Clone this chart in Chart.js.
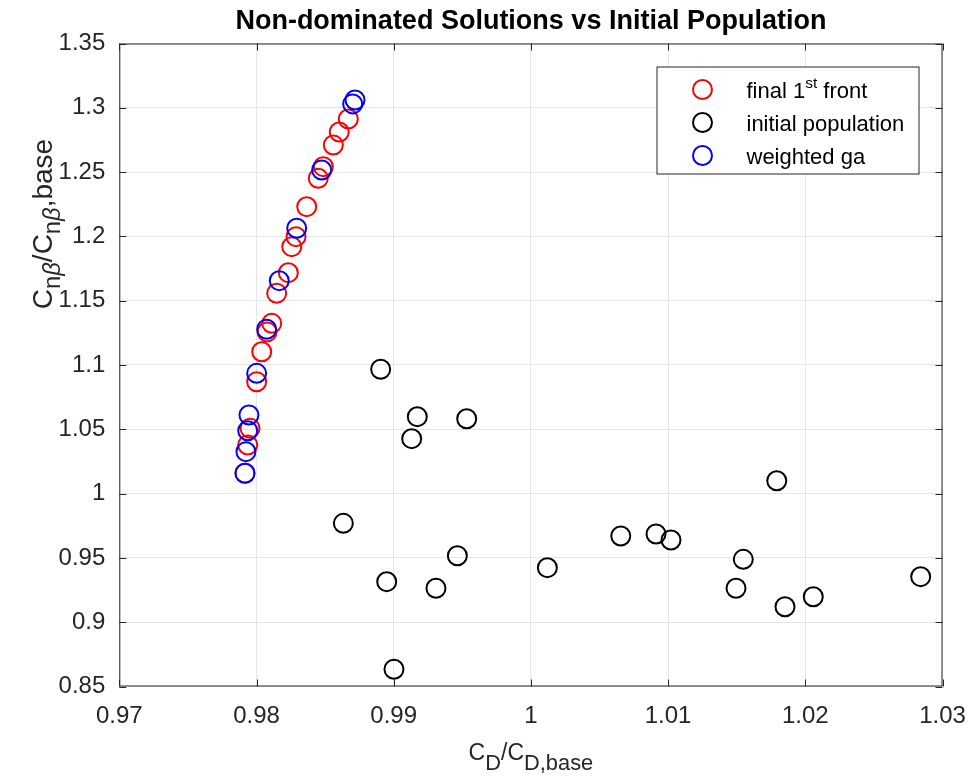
<!DOCTYPE html>
<html>
<head>
<meta charset="utf-8">
<script src="https://cdn.jsdelivr.net/npm/chart.js@4"></script>
<style>
  body { margin: 0; background: #fff; }
  #wrap { width: 972px; height: 778px; }
</style>
</head>
<body>
<div id="wrap"><canvas id="frontChart" width="972" height="778"></canvas></div>
<script>
// data: CD/CD,base vs Cnb/Cnb,base

const finalFrontX = [0.98669, 0.98603, 0.98560, 0.98487, 0.98450, 0.98366, 0.98288, 0.98257, 0.98232,
                     0.98147, 0.98111, 0.98077, 0.98038, 0.98001, 0.97953, 0.97936, 0.97916];
const finalFrontY = [1.2913, 1.2812, 1.2711, 1.2542, 1.2452, 1.2231, 1.1998, 1.1920, 1.1718,
                     1.1558, 1.1324, 1.1257, 1.1103, 1.0870, 1.0508, 1.0378, 1.0158];

const initialPopX = [0.98905, 0.99172, 0.99532, 0.99131, 0.98633, 0.99464, 1.00120, 0.98949, 0.99308, 0.99002,
                     1.01792, 1.00655, 1.00912, 1.01021, 1.01548, 1.01495, 1.01852, 1.02058, 1.02841];
const initialPopY = [1.0967, 1.0598, 1.0582, 1.0427, 0.9769, 0.9517, 0.9424, 0.9315, 0.9264, 0.8634,
                     1.0100, 0.9670, 0.9686, 0.9639, 0.9489, 0.9264, 0.9120, 0.9198, 0.9354];

const weightedGaX = [0.98718, 0.98701, 0.98475, 0.98293, 0.98166, 0.98074, 0.98001, 0.97945, 0.97936, 0.97923, 0.97916];
const weightedGaY = [1.3061, 1.3030, 1.2516, 1.2063, 1.1656, 1.1278, 1.0935, 1.0611, 1.0489, 1.0326, 1.0158];

const xTicks = [0.97, 0.98, 0.99, 1.00, 1.01, 1.02, 1.03];
const yTicks = [0.85, 0.90, 0.95, 1.00, 1.05, 1.10, 1.15, 1.20, 1.25, 1.30, 1.35];

const titleText = 'Non-dominated Solutions vs Initial Population';

const FONT = '"Liberation Sans", Arial, Helvetica, sans-serif';
const AXIS_COLOR = '#262626';

function toPoints(xs, ys) {
    return xs.map(function(x, i) { return { x: x, y: ys[i] }; });
}

// draw a run of text pieces (normal / subscript / superscript) starting at x,y (baseline)
function drawRuns(ctx, runs, x, y, size, opts) {
    opts = opts || {};
    const subScale = opts.subScale || 0.7;
    const subShift = opts.subShift || 0.28;
    let cx = x;
    runs.forEach(function(r) {
        const s = r.sub || r.sup ? size * subScale : size;
        ctx.font = (r.italic ? 'italic ' : '') + s + 'px ' + FONT;
        const dy = r.sub ? size * subShift : (r.sup ? -size * 0.42 : 0);
        if (!opts.measureOnly) ctx.fillText(r.t, cx, y + dy);
        cx += ctx.measureText(r.t).width;
    });
    return cx - x;
}

const legendItems = [
    { ds: 0, runs: [{ t: 'final 1' }, { t: 'st', sup: true }, { t: ' front' }] },
    { ds: 1, runs: [{ t: 'initial population' }] },
    { ds: 2, runs: [{ t: 'weighted ga' }] }
];

const decorPlugin = {
    id: 'decor',
    beforeDraw(chart) {
        const ctx = chart.ctx;
        ctx.save();
        ctx.fillStyle = '#fff';
        ctx.fillRect(0, 0, chart.width, chart.height);
        ctx.restore();
    },
    afterDraw(chart) {
        const ctx = chart.ctx;
        const a = chart.chartArea;
        const xs = chart.scales.x, ys = chart.scales.y;
        ctx.save();

        // axes box with inward ticks
        ctx.strokeStyle = AXIS_COLOR;
        ctx.lineWidth = 1;
        ctx.strokeRect(a.left + 0.5, a.top + 0.5, a.right - a.left - 1, a.bottom - a.top - 1);
        ctx.beginPath();
        xTicks.forEach(function(v) {
            const px = Math.round(xs.getPixelForValue(v)) + 0.5;
            ctx.moveTo(px, a.bottom); ctx.lineTo(px, a.bottom - 7);
            ctx.moveTo(px, a.top); ctx.lineTo(px, a.top + 7);
        });
        yTicks.forEach(function(v) {
            const py = Math.round(ys.getPixelForValue(v)) + 0.5;
            ctx.moveTo(a.left, py); ctx.lineTo(a.left + 7, py);
            ctx.moveTo(a.right, py); ctx.lineTo(a.right - 7, py);
        });
        ctx.stroke();

        // title
        ctx.fillStyle = '#000';
        ctx.font = 'bold 27px ' + FONT;
        ctx.textAlign = 'center';
        ctx.textBaseline = 'alphabetic';
        ctx.fillText(titleText, (a.left + a.right) / 2, 29);

        // x axis label
        ctx.fillStyle = AXIS_COLOR;
        ctx.textAlign = 'left';
        const xOpts = { subScale: 0.95, subShift: 0.45 };
        const xRuns = [{ t: 'C' }, { t: 'D', sub: true }, { t: '/C' }, { t: 'D,base', sub: true }];
        const xw = drawRuns(ctx, xRuns, 0, 0, 23, Object.assign({ measureOnly: true }, xOpts));
        drawRuns(ctx, xRuns, (a.left + a.right) / 2 - xw / 2, 760, 23, xOpts);

        // y axis label (rotated)
        const yOpts = { subScale: 0.85, subShift: 0.3 };
        const yRuns = [{ t: 'C' }, { t: 'n', sub: true }, { t: '\u03B2', sub: true, italic: true },
                       { t: '/C' }, { t: 'n', sub: true }, { t: '\u03B2', sub: true, italic: true }, { t: ',base' }];
        const yw = drawRuns(ctx, yRuns, 0, 0, 28, Object.assign({ measureOnly: true }, yOpts));
        ctx.translate(52, 224);
        ctx.rotate(-Math.PI / 2);
        drawRuns(ctx, yRuns, -yw / 2, 0, 28, yOpts);
        ctx.setTransform(1, 0, 0, 1, 0, 0);

        // legend
        const lx = a.right - 24 - 262, ly = a.top + 23;
        ctx.fillStyle = '#fff';
        ctx.fillRect(lx, ly, 262, 107);
        ctx.strokeStyle = AXIS_COLOR;
        ctx.strokeRect(lx + 0.5, ly + 0.5, 262, 107);
        legendItems.forEach(function(item, i) {
            const ds = chart.data.datasets[item.ds];
            const cy = ly + 23 + i * 33;
            ctx.beginPath();
            ctx.arc(lx + 46, cy, 9.5, 0, Math.PI * 2);
            ctx.strokeStyle = ds.borderColor;
            ctx.lineWidth = 2;
            ctx.stroke();
            ctx.fillStyle = '#000';
            drawRuns(ctx, item.runs, lx + 90, cy + 8, 22);
        });
        ctx.restore();
    }
};

function fmt(v) {
    return parseFloat(v.toFixed(2)).toString();
}

// fixed axis sizes, no automatic label overflow padding
function fixX(s) {
    s.height = 91.5;
    s.paddingLeft = 0; s.paddingRight = 0; s.paddingTop = 0; s.paddingBottom = 0;
}
function fixY(s) {
    s.width = 119.3;
    s.paddingLeft = 0; s.paddingRight = 0; s.paddingTop = 0; s.paddingBottom = 0;
}

const ctx = document.getElementById('frontChart').getContext('2d');

new Chart(ctx, {
    type: 'scatter',
    data: {
        datasets: [
            {
                label: 'final 1st front',
                data: toPoints(finalFrontX, finalFrontY),
                borderColor: '#ff0000',
                backgroundColor: 'rgba(0,0,0,0)',
                order: 2
            },
            {
                label: 'initial population',
                data: toPoints(initialPopX, initialPopY),
                borderColor: '#000000',
                backgroundColor: 'rgba(0,0,0,0)',
                order: 1
            },
            {
                label: 'weighted ga',
                data: toPoints(weightedGaX, weightedGaY),
                borderColor: '#0000ff',
                backgroundColor: 'rgba(0,0,0,0)',
                order: 0
            }
        ]
    },
    options: {
        responsive: false,
        animation: false,
        events: [],
        devicePixelRatio: 1,
        layout: { padding: { top: 43.5, right: 29.5, left: 0, bottom: 0 } },
        elements: {
            point: { radius: 9.5, borderWidth: 2, pointStyle: 'circle' }
        },
        plugins: {
            legend: { display: false },
            title: { display: false },
            tooltip: { enabled: false }
        },
        scales: {
            x: {
                type: 'linear',
                min: 0.97,
                max: 1.03,
                afterFit: fixX,
                afterBuildTicks: function(s) { s.ticks = xTicks.map(function(v) { return { value: v }; }); },
                ticks: {
                    color: AXIS_COLOR,
                    font: { family: FONT, size: 24 },
                    padding: 15,
                    maxRotation: 0,
                    callback: fmt
                },
                grid: { color: '#e6e6e6', drawTicks: false },
                border: { display: false }
            },
            y: {
                type: 'linear',
                min: 0.85,
                max: 1.35,
                afterFit: fixY,
                afterBuildTicks: function(s) { s.ticks = yTicks.map(function(v) { return { value: v }; }); },
                ticks: {
                    color: AXIS_COLOR,
                    font: { family: FONT, size: 24 },
                    padding: 14,
                    callback: fmt
                },
                grid: { color: '#e6e6e6', drawTicks: false },
                border: { display: false }
            }
        }
    },
    plugins: [decorPlugin]
});
</script>
</body>
</html>
